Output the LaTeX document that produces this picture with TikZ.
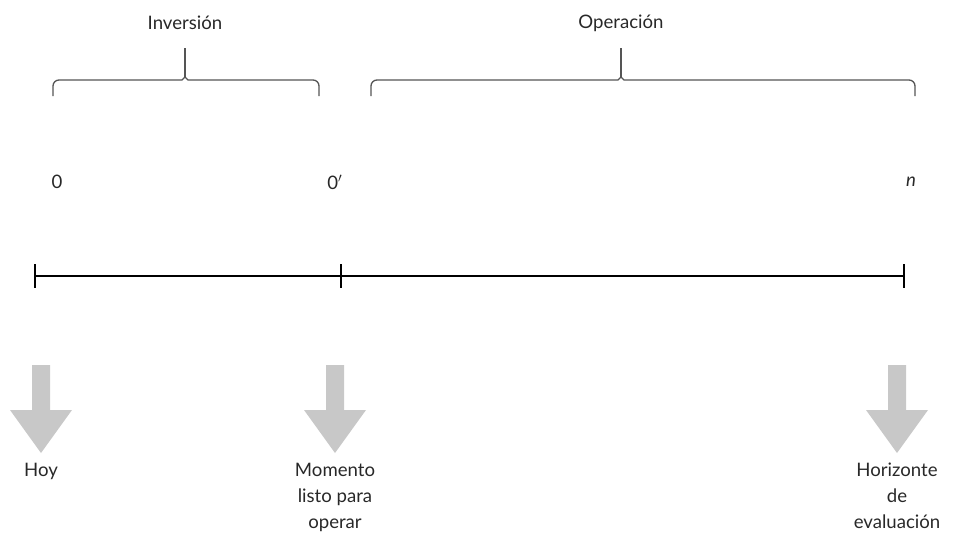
\documentclass[tikz,border=0pt]{standalone}
\usepackage{fontspec}
\setmainfont{Lato}
\usetikzlibrary{positioning}
\usetikzlibrary{calc}
\definecolor{texto}{RGB}{40,40,40}
\definecolor{llave}{RGB}{85,85,85}
\definecolor{flecha}{RGB}{200,200,200}

\tikzset{
  etiq/.style={text=texto, font=\fontsize{14}{19.5}\selectfont, inner sep=0pt, align=center},
  linea/.style={line width=1.5pt, black},
  llaves/.style={line width=1pt, llave},
  bajada/.pic={\fill[flecha] (-9,0) -- (9,0) -- (9,45) -- (31,45) -- (0,88) -- (-31,45) -- (-9,45) -- cycle;}
}

\begin{document}
\begin{tikzpicture}[x=0.02646cm, y=-0.02646cm]
    \useasboundingbox (0,0) rectangle (953,539);

    % timeline
    \coordinate (t0) at (35,276);
    \coordinate (t1) at (341,276);
    \coordinate (tn) at (904,276);
    \draw[linea] (t0) -- (t1) -- (tn);
    \foreach \p in {t0,t1,tn}
        \draw[linea] ($(\p)+(0,-12)$) -- ($(\p)+(0,12)$);

    \node[etiq] (c0) at (57,182) {0};
    \node[etiq] (c1) at (335,182) {0$'$};
    \node[etiq] (cn) at (911,182) {\itshape n};

    % braces
    \draw[llaves] (53,96) -- (53,86) arc[start angle=180, end angle=270, radius=6] -- (182,80) -- (185,77) -- (188,80) -- (313,80) arc[start angle=270, end angle=360, radius=6] -- (319,96);
    \draw[llaves] (185,77) -- (185,48);
    \draw[llaves] (371,96) -- (371,86) arc[start angle=180, end angle=270, radius=6] -- (618,80) -- (621,77) -- (624,80) -- (909,80) arc[start angle=270, end angle=360, radius=6] -- (915,96);
    \draw[llaves] (621,77) -- (621,48);
    \node[etiq] (inv) at (185,23) {Inversión};
    \node[etiq] (ope) at (621,23) {Operación};

    % arrows
    \pic at (41,365) {bajada};
    \pic at (335,365) {bajada};
    \pic at (897,365) {bajada};

    \node[etiq, anchor=north] (hoy) at (41,463) {Hoy};
    \node[etiq, anchor=north] (mom) at (335,463) {Momento\\listo para\\operar};
    \node[etiq, anchor=north] (hor) at (897,463) {Horizonte\\de\\evaluación};
\end{tikzpicture}
\end{document}
